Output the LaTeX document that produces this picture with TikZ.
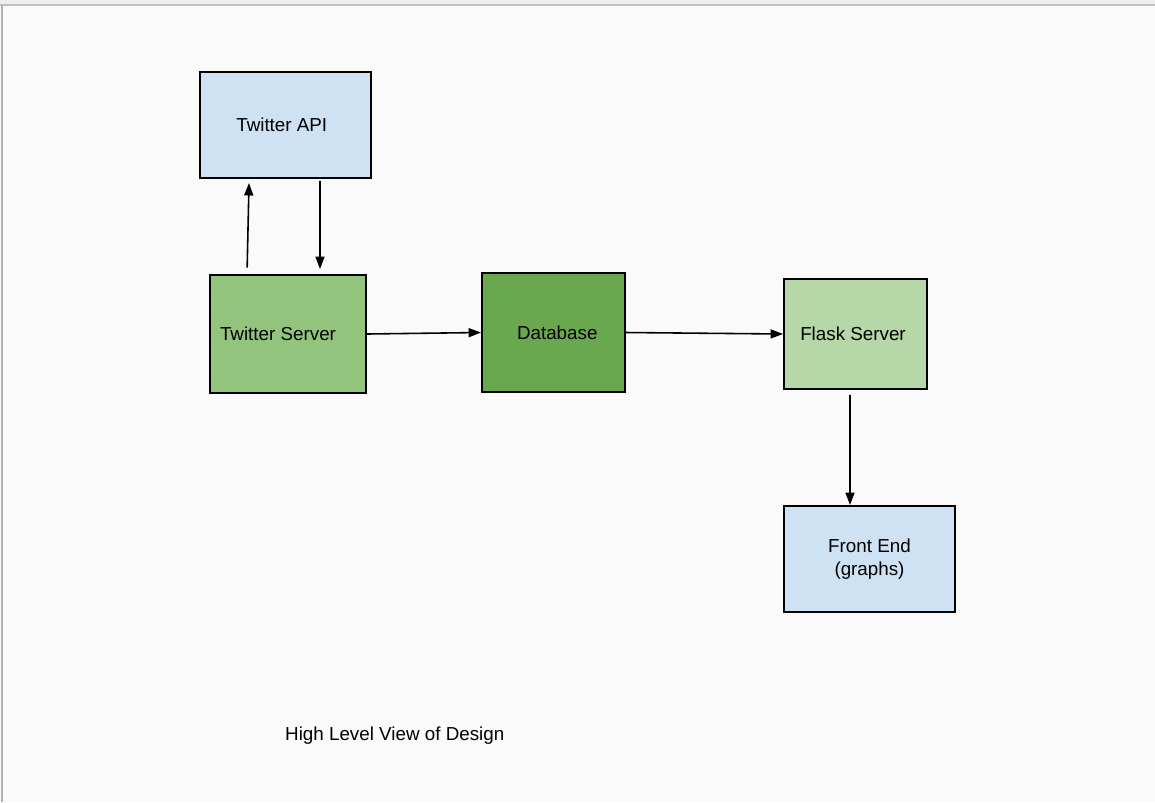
\documentclass[tikz,border=0pt]{standalone}
\usepackage{xcolor}
\usepackage{tikz}
\usepackage{fontspec}
\setmainfont{Liberation Sans}
\usetikzlibrary{arrows.meta, positioning}

\definecolor{apiblue}{HTML}{CFE2F3}
\definecolor{srvgreen}{HTML}{93C47D}
\definecolor{dbgreen}{HTML}{6AA84F}
\definecolor{flaskgreen}{HTML}{B6D7A8}
\definecolor{canvas}{HTML}{FAFAFA}
\definecolor{barfill}{HTML}{EEEEEE}

\begin{document}
\begin{tikzpicture}[
    x=0.02cm, y=-0.02cm,
    box/.style={rectangle, draw, line width=1.1pt, align=center, font=\fontsize{10.7}{12.8}\selectfont, inner sep=0pt},
    arrow/.style={-{Triangle[length=2.5mm, width=1.8mm]}, line width=0.9pt}
]
    % Canvas
    \useasboundingbox (0,0) rectangle (1155,802);
    \fill[canvas] (0,0) rectangle (1155,802);
    \fill[barfill] (0,0) rectangle (1155,5);
    \draw[gray!50, line width=0.6pt] (0,5) -- (1155,5);
    \draw[gray!60, line width=0.8pt] (2,5) -- (2,802);

    % Twitter side
    \node[box, fill=apiblue, minimum width=3.42cm, minimum height=2.12cm] (api) at (285.5,125) {Twitter API\hspace{0.15cm}};
    \node[box, fill=srvgreen, minimum width=3.12cm, minimum height=2.36cm] (server) at (288,334) {Twitter Server\hspace{0.4cm}};

    % Storage
    \node[box, fill=dbgreen, minimum width=2.86cm, minimum height=2.38cm] (db) at (553.5,332.5) {\hspace{0.15cm}Database};

    % Web side
    \node[box, fill=flaskgreen, minimum width=2.86cm, minimum height=2.2cm] (flask) at (855.5,334) {Flask Server\hspace{0.1cm}};
    \node[box, fill=apiblue, minimum width=3.42cm, minimum height=2.12cm] (front) at (869.5,559) {Front End\\(graphs)\hspace{0.1cm}};

    % Caption
    \node[font=\fontsize{10.7}{12.8}\selectfont, anchor=west] (caption) at (279,736) {High Level View of Design};

    % Arrows
    \draw[arrow, shorten <=4\pgflinewidth] ([xshift=-0.82cm]server.north) -- ([xshift=-0.73cm, yshift=-0.08cm]api.south);
    \draw[arrow, shorten >=0.1cm] ([xshift=0.69cm, yshift=-0.04cm]api.south) -- ([xshift=0.64cm]server.north);
    \draw[arrow] (server.east) -- (db.west);
    \draw[arrow] (db.east) -- (flask.west);
    \draw[arrow] ([xshift=-0.11cm, yshift=-0.1cm]flask.south) -- ([xshift=-0.39cm]front.north);
\end{tikzpicture}
\end{document}
